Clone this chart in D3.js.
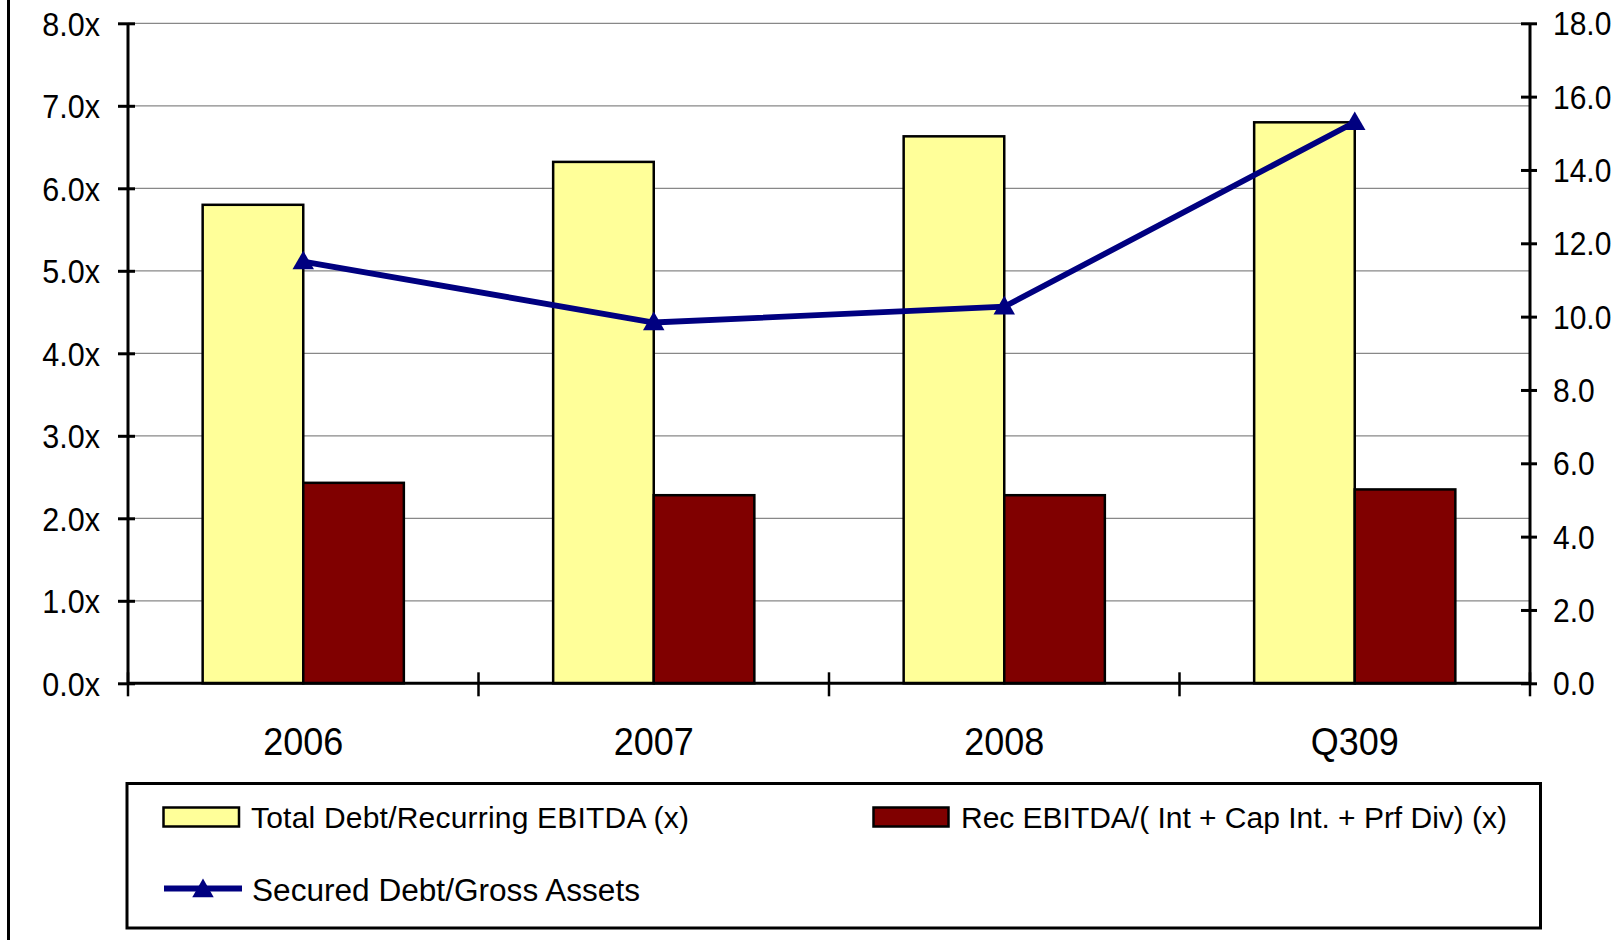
<!DOCTYPE html>
<html>
<head>
<meta charset="utf-8">
<script src="https://cdn.jsdelivr.net/npm/d3@7"></script>
<style>
  html, body { margin: 0; padding: 0; background: #fff; }
  svg { display: block; font-family: "Liberation Sans", Arial, sans-serif; }
</style>
</head>
<body>
<svg id="chart" width="1621" height="940"></svg>
<script>
// Periods on the x axis
const categories = ["2006", "2007", "2008", "Q309"];
// Total Debt / Recurring EBITDA (left axis, x)
const totalDebtEbitda = [5.8, 6.32, 6.63, 6.8];
// Rec EBITDA / (Int + Cap Int. + Prf Div) (left axis, x)
const recEbitdaCoverage = [2.43, 2.28, 2.28, 2.35];
// Secured Debt / Gross Assets (right axis)
const securedDebtGross = [11.5, 9.84, 10.27, 15.3];

const leftTicks = [0, 1, 2, 3, 4, 5, 6, 7, 8];
const rightTicks = [0, 2, 4, 6, 8, 10, 12, 14, 16, 18];

const seriesNames = [
  "Total Debt/Recurring EBITDA (x)",
  "Rec EBITDA/( Int + Cap Int. + Prf Div) (x)",
  "Secured Debt/Gross Assets"
];

const colors = { yellow: "#FFFF99", red: "#800000", navy: "#000080", grid: "#888888" };

const svg = d3.select("#chart");
const plot = { left: 128, right: 1530, top: 23.3, bottom: 683.3 };

// frame edge on the left of the chart area
svg.append("line")
  .attr("x1", 8.5).attr("x2", 8.5).attr("y1", 0).attr("y2", 940)
  .attr("stroke", "#000").attr("stroke-width", 3);

const x = d3.scaleBand().domain(categories).range([plot.left, plot.right]).paddingInner(0).paddingOuter(0);
const yL = d3.scaleLinear().domain([0, 8]).range([plot.bottom, plot.top]);
const yR = d3.scaleLinear().domain([0, 18]).range([plot.bottom, plot.top]);

// horizontal gridlines
svg.append("g").selectAll("line").data(leftTicks.filter(d => d > 0)).join("line")
  .attr("x1", plot.left).attr("x2", plot.right)
  .attr("y1", d => yL(d)).attr("y2", d => yL(d))
  .attr("stroke", colors.grid).attr("stroke-width", 1.2);

// bars
const groupWidth = x.bandwidth() * 0.574;
const barW = groupWidth / 2;
const bars = svg.append("g");
bars.selectAll("rect.total").data(categories).join("rect")
  .attr("class", "total")
  .attr("x", d => x(d) + x.bandwidth() / 2 - barW)
  .attr("y", (d, i) => yL(totalDebtEbitda[i]))
  .attr("width", barW)
  .attr("height", (d, i) => yL(0) - yL(totalDebtEbitda[i]))
  .attr("fill", colors.yellow).attr("stroke", "#000").attr("stroke-width", 2.5);
bars.selectAll("rect.rec").data(categories).join("rect")
  .attr("class", "rec")
  .attr("x", d => x(d) + x.bandwidth() / 2)
  .attr("y", (d, i) => yL(recEbitdaCoverage[i]))
  .attr("width", barW)
  .attr("height", (d, i) => yL(0) - yL(recEbitdaCoverage[i]))
  .attr("fill", colors.red).attr("stroke", "#000").attr("stroke-width", 2.5);

// axes: tick labels are drawn slightly tall, as in the exported workbook chart
const axisW = 3;
const stretch = 1.08;
const leftAxis = svg.append("g").attr("transform", `translate(${plot.left},0)`)
  .call(d3.axisLeft(yL).tickValues(leftTicks).tickSize(0).tickFormat(d => d3.format(".1f")(d) + "x"));
leftAxis.select(".domain").remove();
leftAxis.selectAll("text")
  .attr("x", 0).attr("dy", "0.36em").attr("font-size", 30.5).attr("fill", "#000")
  .attr("transform", `translate(-28,0) scale(1,${stretch})`);
leftAxis.append("line").attr("x1", 0).attr("x2", 0).attr("y1", plot.top).attr("y2", plot.bottom)
  .attr("stroke", "#000").attr("stroke-width", axisW);
leftAxis.selectAll(".tick").append("line").attr("x1", -10).attr("x2", 7)
  .attr("stroke", "#000").attr("stroke-width", axisW);

const rightAxis = svg.append("g").attr("transform", `translate(${plot.right},0)`)
  .call(d3.axisRight(yR).tickValues(rightTicks).tickSize(0).tickFormat(d3.format(".1f")));
rightAxis.select(".domain").remove();
rightAxis.selectAll("text")
  .attr("x", 0).attr("dy", "0.36em").attr("font-size", 30).attr("fill", "#000")
  .attr("transform", `translate(23,0) scale(1,${stretch})`);
rightAxis.append("line").attr("x1", 0).attr("x2", 0).attr("y1", plot.top).attr("y2", plot.bottom)
  .attr("stroke", "#000").attr("stroke-width", axisW);
rightAxis.selectAll(".tick").append("line").attr("x1", -9).attr("x2", 7)
  .attr("stroke", "#000").attr("stroke-width", axisW);

const bottomAxis = svg.append("g").attr("transform", `translate(0,${plot.bottom})`)
  .call(d3.axisBottom(x).tickSize(0));
bottomAxis.select(".domain").remove();
bottomAxis.selectAll("text").attr("font-size", 36).attr("fill", "#000").attr("y", 0).attr("dy", 0)
  .attr("transform", `translate(0,72) scale(1,${stretch})`);
bottomAxis.append("line").attr("x1", plot.left).attr("x2", plot.right).attr("y1", 0).attr("y2", 0)
  .attr("stroke", "#000").attr("stroke-width", axisW);
// category separators
const seps = [plot.left].concat(categories.map(c => x(c) + x.bandwidth()));
bottomAxis.selectAll("line.sep").data(seps).join("line").attr("class", "sep")
  .attr("x1", d => d).attr("x2", d => d).attr("y1", -11).attr("y2", 13)
  .attr("stroke", "#000").attr("stroke-width", 2.5);

// line series
const cx = d => x(d) + x.bandwidth() / 2;
const line = d3.line().x((d, i) => cx(categories[i])).y(d => yR(d));
svg.append("path").datum(securedDebtGross)
  .attr("d", line).attr("fill", "none").attr("stroke", colors.navy).attr("stroke-width", 5.8);
const tri = d3.symbol().type(d3.symbolTriangle).size(200);
svg.append("g").selectAll("path").data(securedDebtGross).join("path")
  .attr("d", tri)
  .attr("transform", (d, i) => `translate(${cx(categories[i])},${yR(d) + 1.5})`)
  .attr("fill", colors.navy);

// legend
const lg = svg.append("g");
lg.append("rect").attr("x", 127).attr("y", 783.5).attr("width", 1413.5).attr("height", 144.5)
  .attr("fill", "#fff").attr("stroke", "#000").attr("stroke-width", 3);
lg.append("rect").attr("x", 163.5).attr("y", 807.5).attr("width", 75.5).attr("height", 19)
  .attr("fill", colors.yellow).attr("stroke", "#000").attr("stroke-width", 2.5);
lg.append("text").attr("x", 251).attr("y", 828).attr("font-size", 30)
  .attr("textLength", 438).attr("lengthAdjust", "spacing").text(seriesNames[0]);
lg.append("rect").attr("x", 873.5).attr("y", 807.5).attr("width", 75).attr("height", 19)
  .attr("fill", colors.red).attr("stroke", "#000").attr("stroke-width", 2.5);
lg.append("text").attr("x", 961).attr("y", 828).attr("font-size", 30)
  .attr("textLength", 546).attr("lengthAdjust", "spacing").text(seriesNames[1]);
lg.append("line").attr("x1", 164).attr("x2", 242).attr("y1", 888.5).attr("y2", 888.5)
  .attr("stroke", colors.navy).attr("stroke-width", 5.8);
lg.append("path").attr("d", tri).attr("transform", "translate(203,891)").attr("fill", colors.navy);
lg.append("text").attr("x", 252).attr("y", 901).attr("font-size", 31)
  .attr("textLength", 388).attr("lengthAdjust", "spacingAndGlyphs").text(seriesNames[2]);
</script>
</body>
</html>
